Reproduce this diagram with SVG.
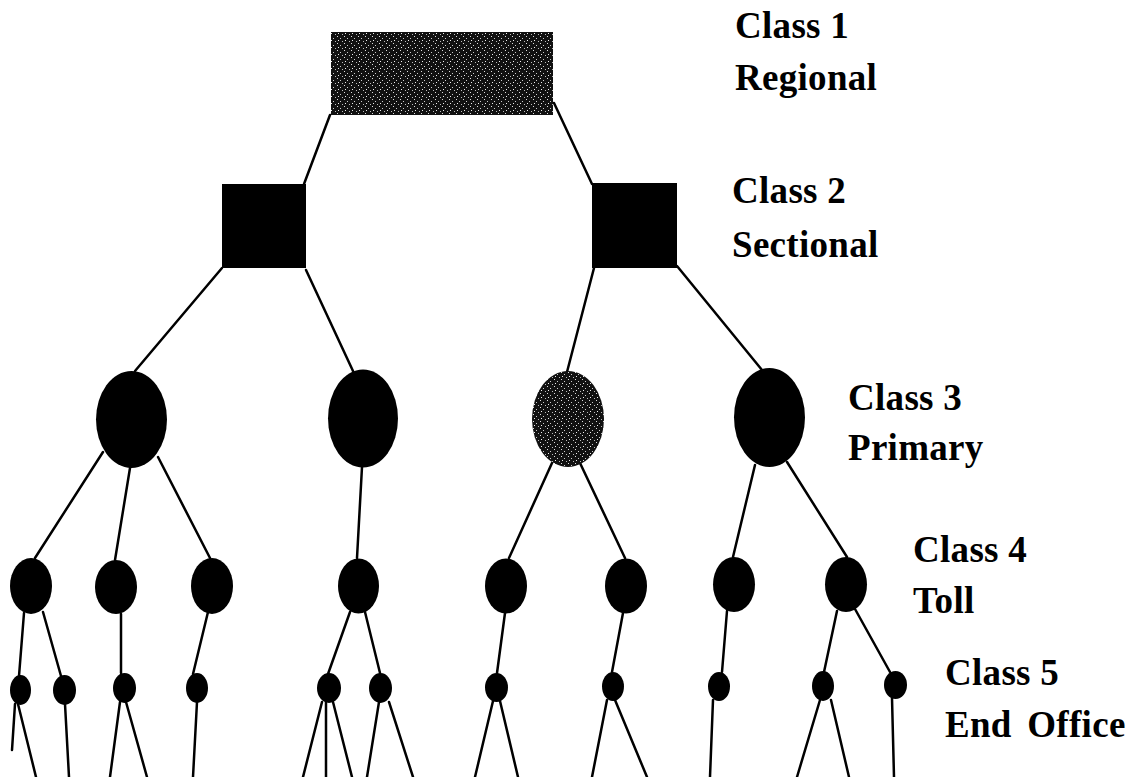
<svg xmlns="http://www.w3.org/2000/svg" width="1132" height="777" viewBox="0 0 1132 777">
  <defs>
    <!-- speckled fill: black ground with scattered light dots -->
    <pattern id="stipple" width="7" height="7" patternUnits="userSpaceOnUse">
      <rect width="7" height="7" fill="#111"/>
      <rect x="1" y="1" width="1" height="1" fill="#ddd"/>
      <rect x="4" y="3" width="1" height="1" fill="#ccc"/>
      <rect x="2" y="5" width="1" height="1" fill="#eee"/>
      <rect x="6" y="6" width="1" height="1" fill="#bbb"/>
    </pattern>
  </defs>
  <style>
    .link { stroke: #000; stroke-width: 2.5; fill: none; stroke-linecap: round; }
    .solid { fill: #000; }
    .speckle { fill: url(#stipple); }
    .label { font-family: "Liberation Serif", "Times New Roman", serif; font-weight: bold; font-size: 37px; letter-spacing: 0.3px; fill: #000; }
  </style>
  <rect width="1132" height="777" fill="#fff"/>

  <!-- connectors -->
  <g id="connectors" class="link">
    <!-- class 1 to class 2 -->
    <path d="M330,115 L304,184"/>
    <path d="M554,103 L592,184"/>
    <!-- class 2 to class 3 -->
    <path d="M222,268 L135,371"/>
    <path d="M306,270 L353,371"/>
    <path d="M594,268 L567,372"/>
    <path d="M677,266 L762,370"/>
    <!-- class 3 to class 4 -->
    <path d="M103,452 L35,558"/>
    <path d="M130,468 L115,560"/>
    <path d="M158,457 L210,558"/>
    <path d="M362,467 L357,558"/>
    <path d="M552,463 L509,558"/>
    <path d="M580,463 L625,558"/>
    <path d="M755,465 L733,557"/>
    <path d="M787,462 L847,557"/>
    <!-- class 4 to class 5 -->
    <path d="M24,613 L19,676"/>
    <path d="M43,612 L61,676"/>
    <path d="M121,614 L121,673"/>
    <path d="M208,612 L193,674"/>
    <path d="M350,612 L328,674"/>
    <path d="M365,612 L380,673"/>
    <path d="M505,613 L497,673"/>
    <path d="M623,613 L612,672"/>
    <path d="M727,611 L722,672"/>
    <path d="M837,611 L824,672"/>
    <path d="M855,609 L890,672"/>
    <!-- class 5 drops -->
    <path d="M15,704 L12,750"/>
    <path d="M18,704 L36,777"/>
    <path d="M65,704 L69,777"/>
    <path d="M120,702 L110,777"/>
    <path d="M126,702 L147,777"/>
    <path d="M197,702 L193,777"/>
    <path d="M322,702 L303,777"/>
    <path d="M326,702 L326,777"/>
    <path d="M333,702 L352,777"/>
    <path d="M379,702 L367,777"/>
    <path d="M389,702 L413,777"/>
    <path d="M493,701 L475,777"/>
    <path d="M500,701 L518,777"/>
    <path d="M607,700 L592,777"/>
    <path d="M615,700 L647,777"/>
    <path d="M713,700 L710,777"/>
    <path d="M820,700 L797,777"/>
    <path d="M831,700 L849,777"/>
    <path d="M892,698 L894,777"/>
  </g>

  <!-- class 1 -->
  <g id="regional">
    <rect x="331" y="32" width="222" height="83" class="speckle"/>
  </g>

  <!-- class 2 -->
  <g id="sectional-left"><rect x="222" y="184" width="84" height="84" class="solid"/></g>
  <g id="sectional-right"><rect x="592" y="183" width="85" height="85" class="solid"/></g>

  <!-- class 3 -->
  <g id="primary-1"><ellipse cx="131.5" cy="419.5" rx="35.5" ry="48.5" class="solid"/></g>
  <g id="primary-2"><ellipse cx="363" cy="418.5" rx="35" ry="49" class="solid"/></g>
  <g id="primary-3"><ellipse cx="568" cy="419" rx="36" ry="48" class="speckle"/></g>
  <g id="primary-4"><ellipse cx="769.5" cy="417.5" rx="35.5" ry="49.5" class="solid"/></g>

  <!-- class 4 -->
  <g id="toll-1"><ellipse cx="31" cy="586" rx="21" ry="28" class="solid"/></g>
  <g id="toll-2"><ellipse cx="116" cy="587" rx="21" ry="27" class="solid"/></g>
  <g id="toll-3"><ellipse cx="212" cy="586" rx="21" ry="28" class="solid"/></g>
  <g id="toll-4"><ellipse cx="358.5" cy="586" rx="20.5" ry="27.5" class="solid"/></g>
  <g id="toll-5"><ellipse cx="506" cy="586" rx="21" ry="27.5" class="solid"/></g>
  <g id="toll-6"><ellipse cx="626" cy="586" rx="21" ry="27.5" class="solid"/></g>
  <g id="toll-7"><ellipse cx="734" cy="584.5" rx="21" ry="27.5" class="solid"/></g>
  <g id="toll-8"><ellipse cx="846" cy="584.5" rx="21" ry="27.5" class="solid"/></g>

  <!-- class 5 -->
  <g id="end-1"><ellipse cx="20.5" cy="690" rx="10.5" ry="15" class="solid"/></g>
  <g id="end-2"><ellipse cx="64.5" cy="690" rx="11.5" ry="15" class="solid"/></g>
  <g id="end-3"><ellipse cx="124.5" cy="688" rx="11.5" ry="15" class="solid"/></g>
  <g id="end-4"><ellipse cx="197" cy="688" rx="11" ry="15" class="solid"/></g>
  <g id="end-5"><ellipse cx="329" cy="688" rx="12" ry="15" class="solid"/></g>
  <g id="end-6"><ellipse cx="380.5" cy="688" rx="11.5" ry="15" class="solid"/></g>
  <g id="end-7"><ellipse cx="496.5" cy="687.5" rx="11.5" ry="14.5" class="solid"/></g>
  <g id="end-8"><ellipse cx="613" cy="686.5" rx="11" ry="14.5" class="solid"/></g>
  <g id="end-9"><ellipse cx="719" cy="686.5" rx="11" ry="14.5" class="solid"/></g>
  <g id="end-10"><ellipse cx="823" cy="686" rx="11" ry="15" class="solid"/></g>
  <g id="end-11"><ellipse cx="895.5" cy="685" rx="11.5" ry="14" class="solid"/></g>

  <!-- level labels -->
  <g id="labels" class="label">
    <text x="735" y="38">Class 1</text>
    <text x="735" y="90">Regional</text>
    <text x="732" y="203">Class 2</text>
    <text x="732" y="257">Sectional</text>
    <text x="848" y="410">Class 3</text>
    <text x="848" y="460">Primary</text>
    <text x="913" y="562">Class 4</text>
    <text x="913" y="613">Toll</text>
    <text x="945" y="685">Class 5</text>
    <text x="945" y="737" word-spacing="6">End Office</text>
  </g>
</svg>
